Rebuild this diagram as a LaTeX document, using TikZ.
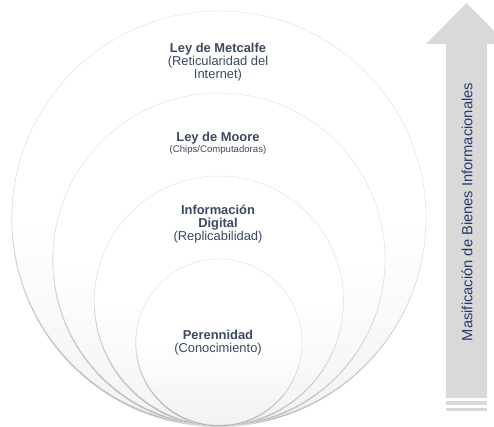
\documentclass[tikz,border=0pt]{standalone}
\usepackage{fontspec}
\setmainfont{Liberation Sans}
\definecolor{txtslate}{HTML}{3B4A5F}
\definecolor{navy}{HTML}{253D6E}
\definecolor{arrowgray}{HTML}{D9D9D9}
\begin{document}
\begin{tikzpicture}[x=1pt,y=1pt,
  ring/.style={top color=white,bottom color=gray!10,middle color=white,draw=gray!22,line width=0.5pt},
  ringshadowA/.style={fill=gray!30,draw=none},
  ringshadowB/.style={fill=gray!65,draw=none},
  lbl/.style={text=txtslate,align=center,inner sep=0pt,font=\fontsize{12.9}{13}\selectfont},
  arrowfill/.style={fill=arrowgray,draw=none}]
\useasboundingbox (0,0) rectangle (494,426);
\clip (0,0) rectangle (494,426);
% circles, largest first
\foreach \r in {207,166,124.5,83}{
  \fill[ringshadowA] (218.6,{1+\r-2.0}) circle (\r);
  \fill[ringshadowB] (218.8,{1+\r-1.1}) circle (\r);
  \draw[ring] (219,{1+\r}) circle (\r);
}
% labels
\node[lbl] (metcalfe) at (218,364) {\textbf{Ley de Metcalfe}\\(Reticularidad del\\Internet)};
\node[lbl,font=\fontsize{12.9}{11}\selectfont] (moore) at (218,282.5) {\textbf{Ley de Moore}\\{\fontsize{9.6}{11}\selectfont(Chips/Computadoras)}};
\node[lbl] (digital) at (218,202) {\textbf{Información}\\\textbf{Digital}\\(Replicabilidad)};
\node[lbl] (perenne) at (218,83.5) {\textbf{Perennidad}\\(Conocimiento)};
% arrow
\fill[arrowfill] (446,28) -- (446,382) -- (426,382) -- (466.5,423) -- (507,382) -- (487,382) -- (487,28) -- cycle;
\fill[arrowfill] (446,21) rectangle (487,25);
\fill[arrowfill] (446,15.3) rectangle (487,17.7);
\node[rotate=90,text=navy,inner sep=0pt,font=\fontsize{14.7}{16}\selectfont] (masif) at (467,214) {Masificación de Bienes Informacionales};
\end{tikzpicture}
\end{document}
